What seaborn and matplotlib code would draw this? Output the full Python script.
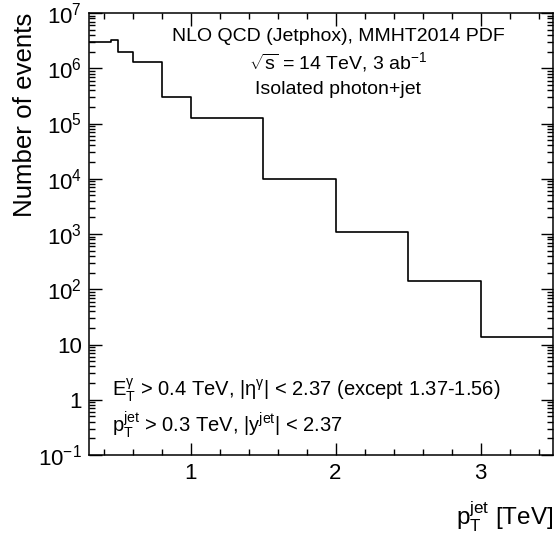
import numpy as np
import pandas as pd
import matplotlib
matplotlib.use("Agg")
import matplotlib.pyplot as plt
import seaborn as sns
from matplotlib.ticker import FixedLocator, MultipleLocator, LogLocator, NullFormatter

bin_edges = [0.3, 0.45, 0.5, 0.6, 0.8, 1.0, 1.5, 2.0, 2.5, 3.0, 3.5]
events = [3.0e6, 3.3e6, 1.95e6, 1.28e6, 3.05e5, 1.24e5, 9.8e3, 1.1e3, 1.44e2, 13.6]
ytick_vals = [1e-1, 1, 10, 1e2, 1e3, 1e4, 1e5, 1e6, 1e7]
ytick_labels = [r"$10^{-1}$", "1", "10", r"$10^{2}$", r"$10^{3}$", r"$10^{4}$",
                r"$10^{5}$", r"$10^{6}$", r"$10^{7}$"]
xtick_vals = [1, 2, 3]
xtick_labels = ["1", "2", "3"]

sns.set_theme(style="ticks")
plt.rcParams["font.family"] = ["Liberation Sans", "DejaVu Sans"]
plt.rcParams["mathtext.fontset"] = "custom"
plt.rcParams["mathtext.rm"] = "Liberation Sans"
plt.rcParams["mathtext.it"] = "Liberation Sans"
plt.rcParams["mathtext.bf"] = "Liberation Sans:bold"
plt.rcParams["mathtext.sf"] = "Liberation Sans"

centers = [(a + b) / 2 for a, b in zip(bin_edges[:-1], bin_edges[1:])]
df = pd.DataFrame({"pt": centers, "n": events})

fig = plt.figure(figsize=(5.6, 5.42), dpi=100)
ax = fig.add_axes([0.159, 0.1605, 0.9875 - 0.159, 0.976 - 0.1605])
ax.set_yscale("log")
sns.histplot(data=df, x="pt", weights="n", bins=bin_edges, element="step",
             fill=False, color="black", linewidth=1.2, ax=ax)

ax.set_xlim(0.3, 3.5)
ax.set_ylim(0.1, 1e7)

ax.yaxis.set_major_locator(FixedLocator(ytick_vals))
ax.set_yticklabels(ytick_labels)
ax.yaxis.set_minor_locator(LogLocator(base=10, subs=np.arange(2, 10), numticks=20))
ax.yaxis.set_minor_formatter(NullFormatter())
ax.xaxis.set_major_locator(FixedLocator(xtick_vals))
ax.set_xticklabels(xtick_labels)
ax.xaxis.set_minor_locator(MultipleLocator(0.2))

ax.tick_params(which="both", direction="in", top=True, right=True, width=1.0,
               labelsize=16, colors="black")
ax.tick_params(which="major", length=9)
ax.tick_params(which="minor", length=4.5)
ax.tick_params(axis="x", which="major", pad=6)
ax.tick_params(axis="y", which="major", pad=5)
for s in ax.spines.values():
    s.set_linewidth(1.1)
    s.set_color("black")

ax.set_xlabel(r"$\mathregular{p_{T}^{jet}}$ [TeV]", fontsize=17.5, loc="right", labelpad=11)
ax.set_ylabel("Number of events", fontsize=18.6, loc="top", labelpad=1)
ax.xaxis.label.set_color("black")
ax.yaxis.label.set_color("black")

tk = dict(fontsize=14, color="black", transform=ax.transAxes)
ax.text(0.537, 0.946, "NLO QCD (Jetphox), MMHT2014 PDF", ha="center", va="center", **tk)
ax.text(0.537, 0.888, r"$\sqrt{\mathregular{s}}$ = 14 TeV, 3 ab$^{\mathregular{-1}}$", ha="center", va="center", **tk)
ax.text(0.537, 0.826, "Isolated photon+jet", ha="center", va="center", **tk)
bk = dict(tk, fontsize=14.5)
ax.text(0.05, 0.147, r"$\mathregular{E_{T}^{\gamma}}$ > 0.4 TeV, |$\mathregular{\eta^{\gamma}}$| < 2.37 (except 1.37-1.56)",
        ha="left", va="center", **bk)
ax.text(0.05, 0.068, r"$\mathregular{p_{T}^{jet}}$ > 0.3 TeV, |$\mathregular{y^{jet}}$| < 2.37",
        ha="left", va="center", **bk)

fig.savefig("out.png", dpi=100)
